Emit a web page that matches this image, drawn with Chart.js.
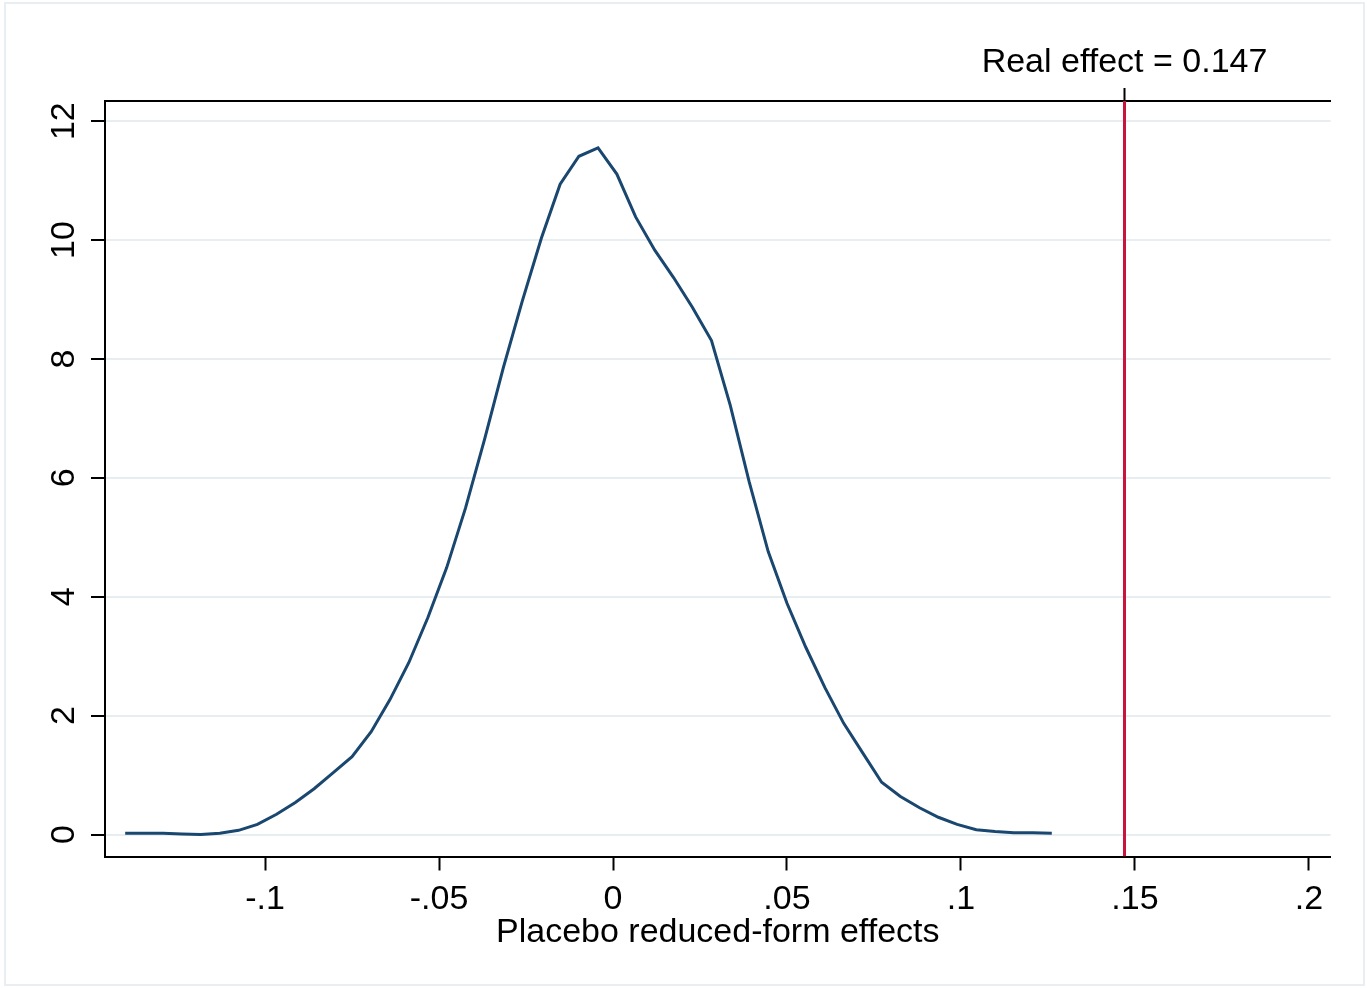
<!DOCTYPE html>
<html>
<head>
<meta charset="utf-8">
<script src="https://cdn.jsdelivr.net/npm/chart.js@4/dist/chart.umd.min.js"></script>
<style>
  html, body { margin: 0; padding: 0; background: #fff; }
  #wrap { position: relative; width: 1367px; height: 988px; }
  #frame {
    position: absolute; left: 4px; top: 2px; width: 1361px; height: 984px;
    border: 2px solid #e8eef1; box-sizing: border-box; pointer-events: none;
  }
  canvas { position: absolute; left: 0; top: 0; }
</style>
</head>
<body>
<div id="wrap">
  <canvas id="chart" width="1367" height="988"></canvas>
  <div id="frame"></div>
</div>
<script>
// kernel density of placebo estimates (50 points)
const effectX = [
  -0.1402, -0.1348, -0.1293, -0.1239, -0.1185, -0.1130, -0.1076, -0.1022, -0.0967, -0.0913,
  -0.0859, -0.0804, -0.0750, -0.0695, -0.0641, -0.0587, -0.0532, -0.0478, -0.0424, -0.0369,
  -0.0315, -0.0261, -0.0206, -0.0152, -0.0098, -0.0043, 0.0011, 0.0065, 0.0120, 0.0174,
  0.0228, 0.0283, 0.0337, 0.0391, 0.0446, 0.0500, 0.0554, 0.0609, 0.0663, 0.0718,
  0.0772, 0.0826, 0.0881, 0.0935, 0.0989, 0.1044, 0.1098, 0.1152, 0.1207, 0.1261
];
const density = [
  0.02, 0.02, 0.02, 0.01, 0.00, 0.02, 0.07, 0.17, 0.34, 0.54,
  0.77, 1.04, 1.31, 1.73, 2.27, 2.89, 3.65, 4.49, 5.49, 6.65,
  7.86, 8.97, 10.03, 10.94, 11.41, 11.55, 11.11, 10.39, 9.83, 9.37,
  8.87, 8.31, 7.22, 5.94, 4.76, 3.89, 3.15, 2.47, 1.87, 1.37,
  0.88, 0.64, 0.45, 0.29, 0.17, 0.08, 0.05, 0.03, 0.03, 0.02
];
const realEffect = 0.147;
const realLabel = 'Real effect = 0.147';
const xTicks = [-0.1, -0.05, 0, 0.05, 0.1, 0.15, 0.2];
const xTickLabels = ['-.1', '-.05', '0', '.05', '.1', '.15', '.2'];
const yTicks = [0, 2, 4, 6, 8, 10, 12];
const xTitle = 'Placebo reduced-form effects';

const X_MIN = -0.146, X_MAX = 0.2062;
const Y_MIN = -0.37, Y_MAX = 12.34;

Chart.defaults.font.family = "'Liberation Sans', Arial, sans-serif";
Chart.defaults.color = '#000';

const axisBorder = { display: true, color: '#000', width: 2 };

new Chart(document.getElementById('chart').getContext('2d'), {
  type: 'line',
  data: {
    datasets: [
      {
        data: effectX.map((x, i) => ({ x: x, y: density[i] })),
        borderColor: '#1a476f',
        borderWidth: 3,
        pointRadius: 0,
        tension: 0,
        xAxisID: 'x',
        yAxisID: 'y'
      },
      {
        data: [{ x: realEffect, y: Y_MIN }, { x: realEffect, y: Y_MAX }],
        borderColor: '#c8143c',
        borderWidth: 3,
        pointRadius: 0,
        xAxisID: 'x',
        yAxisID: 'y'
      }
    ]
  },
  options: {
    responsive: false,
    devicePixelRatio: 1,
    animation: false,
    layout: { padding: { left: 0, top: 0, right: 36.5, bottom: 0 } },
    plugins: { legend: { display: false }, tooltip: { enabled: false } },
    scales: {
      x: {
        type: 'linear',
        position: 'bottom',
        min: X_MIN,
        max: X_MAX,
        afterBuildTicks: s => { s.ticks = xTicks.map(v => ({ value: v })); },
        afterFit: s => { s.height = 131.5; },
        ticks: {
          font: { size: 34 },
          padding: 9,
          maxRotation: 0,
          autoSkip: false,
          callback: v => xTickLabels[xTicks.indexOf(v)]
        },
        grid: { drawOnChartArea: false, drawTicks: true, tickLength: 14, tickColor: '#000', tickWidth: 2 },
        border: axisBorder,
        title: { display: true, text: xTitle, font: { size: 34 }, padding: { top: 0, bottom: 35 } }
      },
      x2: {
        type: 'linear',
        position: 'top',
        min: X_MIN,
        max: X_MAX,
        afterBuildTicks: s => { s.ticks = [{ value: realEffect }]; },
        afterFit: s => { s.height = 101; },
        ticks: { font: { size: 34 }, padding: 5, maxRotation: 0, callback: () => realLabel },
        grid: { drawOnChartArea: false, drawTicks: true, tickLength: 13, tickColor: '#000', tickWidth: 2 },
        border: axisBorder
      },
      y: {
        type: 'linear',
        min: Y_MIN,
        max: Y_MAX,
        afterBuildTicks: s => { s.ticks = yTicks.map(v => ({ value: v })); },
        afterFit: s => { s.width = 105; },
        ticks: { font: { size: 34 }, padding: 7, minRotation: 90, maxRotation: 90, crossAlign: 'center' },
        grid: { color: '#e6eef1', lineWidth: 2, drawTicks: true, tickLength: 14, tickColor: '#000', tickWidth: 2 },
        border: axisBorder
      }
    }
  }
});
</script>
</body>
</html>
